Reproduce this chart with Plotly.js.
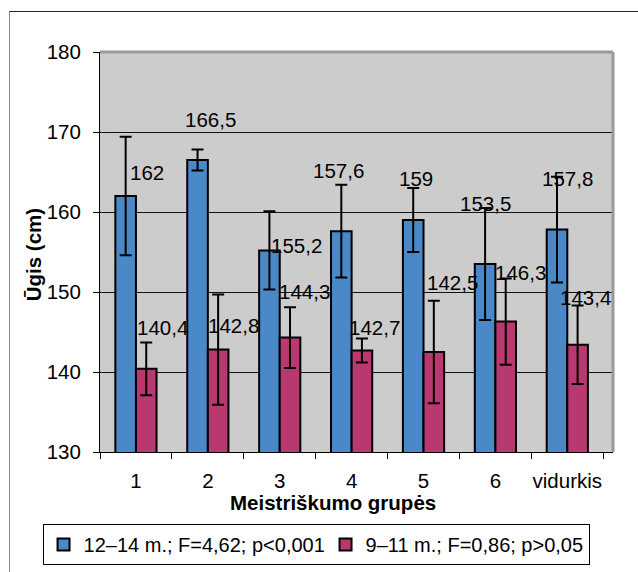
<!DOCTYPE html>
<html>
<head>
<meta charset="utf-8">
<script src="https://cdn.plot.ly/plotly-3.0.1.min.js"></script>
<style>
  html, body { margin: 0; padding: 0; background: #ffffff; }
  #frame { position: absolute; left: 9px; top: 11px; width: 700px; height: 700px;
           border-left: 1.5px solid #8a8a8a; border-top: 1.5px solid #222; }
  #chart { position: absolute; left: 0; top: 0; width: 638px; height: 572px; }
</style>
</head>
<body>
<div id="frame"></div>
<div id="chart"></div>
<script>
// ---- data ----
const categories = ["1", "2", "3", "4", "5", "6", "vidurkis"];
const seriesNames = ["12–14 m.; F=4,62; p<0,001", "9–11 m.; F=0,86; p>0,05"];
const olderValues = [162, 166.5, 155.2, 157.6, 159, 153.5, 157.8];
const olderErrors = [7.4, 1.3, 4.9, 5.8, 4.0, 7.0, 6.6];
const youngerValues = [140.4, 142.8, 144.3, 142.7, 142.5, 146.3, 143.4];
const youngerErrors = [3.3, 6.9, 3.8, 1.5, 6.4, 5.4, 4.9];
const olderLabels = ["162", "166,5", "155,2", "157,6", "159", "153,5", "157,8"];
const youngerLabels = ["140,4", "142,8", "144,3", "142,7", "142,5", "146,3", "143,4"];

// ---- style ----
const blue = "#4a88c8";
const pink = "#b8396f";
const fontFam = "Liberation Sans, Arial, sans-serif";
const fs = 20.5;
// label placement offsets in pixels relative to category centre / bar top
const olderLabelShift = [[11.3, 24], [3, 41], [16.4, 5], [-13.6, 61], [-7.9, 42], [-10.2, 61], [0.5, 51]];
const youngerLabelShift = [[26.3, 41], [25.7, 24], [24.7, 46], [23.1, 23], [28.8, 70], [24.8, 49], [18.2, 47]];

const traces = [
  {
    type: "bar", name: seriesNames[0], x: categories, y: olderValues,
    marker: { color: blue, line: { color: "#000", width: 2 } },
    error_y: { type: "data", array: olderErrors, visible: true, color: "#000", thickness: 2, width: 6 },
    legendwidth: 237,
    hoverinfo: "none"
  },
  {
    type: "bar", name: seriesNames[1], x: categories, y: youngerValues,
    marker: { color: pink, line: { color: "#000", width: 2 } },
    error_y: { type: "data", array: youngerErrors, visible: true, color: "#000", thickness: 2, width: 6 },
    hoverinfo: "none"
  }
];

const annotations = [];
categories.forEach((c, i) => {
  annotations.push({ x: i, y: olderValues[i], xref: "x", yref: "y", text: olderLabels[i],
    showarrow: false, xshift: olderLabelShift[i][0], yshift: olderLabelShift[i][1],
    font: { family: fontFam, size: fs, color: "#000" } });
  annotations.push({ x: i, y: youngerValues[i], xref: "x", yref: "y", text: youngerLabels[i],
    showarrow: false, xshift: youngerLabelShift[i][0], yshift: youngerLabelShift[i][1],
    font: { family: fontFam, size: fs, color: "#000" } });
});
annotations.push({ text: "<b>Meistriškumo grupės</b>", xref: "paper", yref: "paper",
  x: 0.454, y: -0.127, xanchor: "center", yanchor: "middle", showarrow: false,
  font: { family: fontFam, size: fs, color: "#000" } });
annotations.push({ text: "<b>Ūgis (cm)</b>", xref: "paper", yref: "paper",
  x: -0.13, y: 0.4925, xanchor: "center", yanchor: "middle", showarrow: false, textangle: -90,
  font: { family: fontFam, size: fs, color: "#000" } });

const layout = {
  width: 638, height: 572,
  margin: { l: 100, r: 25, t: 52, b: 120, autoexpand: false },
  paper_bgcolor: "rgba(0,0,0,0)",
  plot_bgcolor: "#cccccc",
  barmode: "group",
  bargap: 0.427,
  bargroupgap: 0,
  font: { family: fontFam, size: fs, color: "#000" },
  xaxis: {
    type: "category", tickson: "boundaries", ticks: "outside", ticklen: 6, tickcolor: "#000",
    showline: true, linecolor: "#000", linewidth: 1, showgrid: false, tickangle: 0,
    tickfont: { family: fontFam, size: fs, color: "#000" }, ticklabelstandoff: 10
  },
  yaxis: {
    range: [130, 180], dtick: 10, ticks: "outside", ticklen: 6, tickcolor: "#000",
    showline: true, linecolor: "#000", linewidth: 1,
    showgrid: true, gridcolor: "#111", gridwidth: 1, zeroline: false,
    tickfont: { family: fontFam, size: fs, color: "#000" }, ticklabelstandoff: 8
  },
  showlegend: true,
  legend: {
    orientation: "h", x: -0.112, xanchor: "left", y: -0.18, yanchor: "top",
    bordercolor: "#000", borderwidth: 1, bgcolor: "#fff",
    font: { family: fontFam, size: 20, color: "#000" },
    itemwidth: 30, tracegroupgap: 0
  },
  shapes: [
    { type: "line", xref: "paper", yref: "paper", x0: 0, x1: 1, y0: 1, y1: 1, line: { color: "#999", width: 3 } },
    { type: "line", xref: "paper", yref: "paper", x0: 1, x1: 1, y0: 0, y1: 1, line: { color: "#999", width: 3 } }
  ],
  annotations: annotations
};

Plotly.newPlot("chart", traces, layout, { displayModeBar: false, staticPlot: true });
</script>
</body>
</html>
